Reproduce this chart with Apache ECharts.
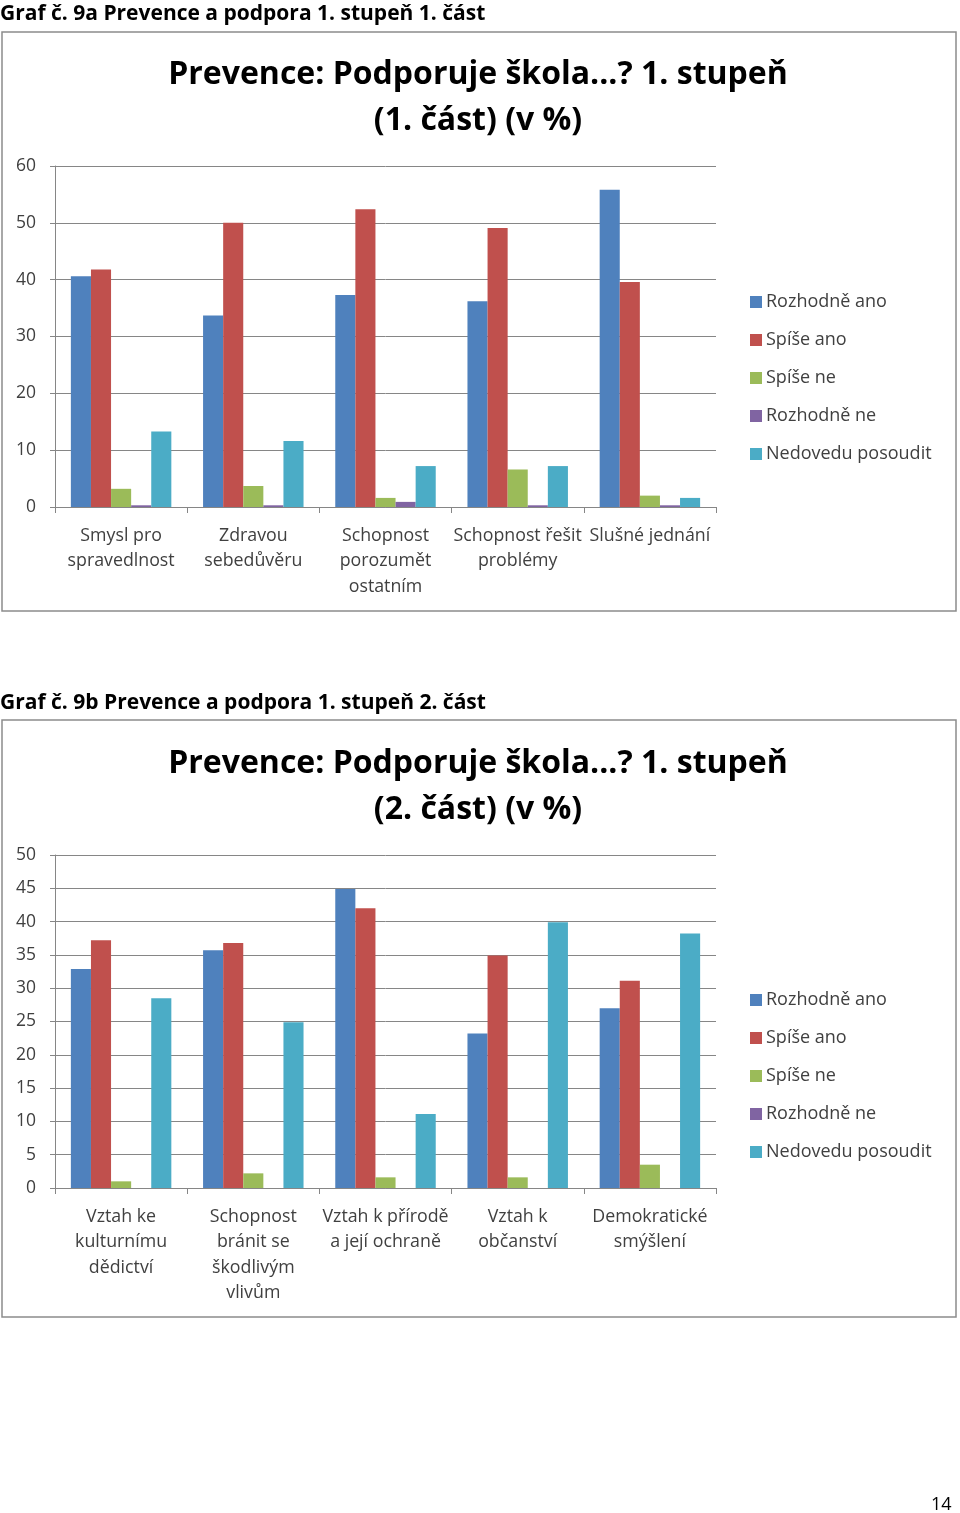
<!DOCTYPE html>
<html>
<head>
<meta charset="utf-8">
<script src="https://cdn.jsdelivr.net/npm/echarts@6/dist/echarts.min.js"></script>
<style>
html,body{margin:0;padding:0;background:#fff;}
#c{width:960px;height:1513px;}
</style>
</head>
<body>
<div id="c"></div>
<script>
// ---- data ----
const seriesNames = ['Rozhodně ano', 'Spíše ano', 'Spíše ne', 'Rozhodně ne', 'Nedovedu posoudit'];
const colors = ['#4F81BD', '#C0504D', '#9BBB59', '#8064A2', '#4BACC6'];

const categories1 = ['Smysl pro\nspravedlnost', 'Zdravou\nsebedůvěru', 'Schopnost\nporozumět\nostatním', 'Schopnost řešit\nproblémy', 'Slušné jednání'];
const rozhodneAno1 = [40.6, 33.7, 37.3, 36.2, 55.8];
const spiseAno1 = [41.8, 50.0, 52.4, 49.1, 39.6];
const spiseNe1 = [3.2, 3.7, 1.6, 6.6, 2.0];
const rozhodneNe1 = [0.3, 0.3, 0.9, 0.3, 0.3];
const nedovedu1 = [13.3, 11.6, 7.2, 7.2, 1.6];

const categories2 = ['Vztah ke\nkulturnímu\ndědictví', 'Schopnost\nbránit se\nškodlivým\nvlivům', 'Vztah k přírodě\na její ochraně', 'Vztah k\nobčanství', 'Demokratické\nsmýšlení'];
const rozhodneAno2 = [32.9, 35.7, 44.9, 23.2, 27.0];
const spiseAno2 = [37.2, 36.8, 42.0, 34.9, 31.1];
const spiseNe2 = [1.0, 2.2, 1.6, 1.6, 3.5];
const rozhodneNe2 = [0, 0, 0, 0, 0];
const nedovedu2 = [28.5, 24.9, 11.1, 39.9, 38.2];

const heading1 = 'Graf č. 9a Prevence a podpora 1. stupeň 1. část';
const heading2 = 'Graf č. 9b Prevence a podpora 1. stupeň 2. část';
const title1 = 'Prevence: Podporuje škola...? 1. stupeň\n(1. část) (v %)';
const title2 = 'Prevence: Podporuje škola...? 1. stupeň\n(2. část) (v %)';
const pageNumber = '14';

// ---- chart ----
const FONT = '"Open Sans", "Noto Sans", sans-serif';
const chart = echarts.init(document.getElementById('c'), null, {renderer: 'canvas'});

const data1 = [rozhodneAno1, spiseAno1, spiseNe1, rozhodneNe1, nedovedu1];
const data2 = [rozhodneAno2, spiseAno2, spiseNe2, rozhodneNe2, nedovedu2];

function makeSeries(dataSets, idx) {
  return dataSets.map((d, i) => ({
    name: seriesNames[i],
    type: 'bar',
    xAxisIndex: idx,
    yAxisIndex: idx,
    data: d,
    barGap: '0%',
    barCategoryGap: '24%',
    itemStyle: {color: colors[i]},
    emphasis: {disabled: true}
  }));
}

function xAxis(idx, cats) {
  return {
    type: 'category',
    gridIndex: idx,
    data: cats,
    axisLine: {lineStyle: {color: '#868686', width: 1}},
    axisTick: {show: true, length: 6, lineStyle: {color: '#868686'}},
    axisLabel: {
      color: '#404040', fontFamily: FONT, fontSize: 17.8, lineHeight: 25.5,
      margin: 16, interval: 0
    }
  };
}
function yAxis(idx, max, interval) {
  return {
    type: 'value',
    gridIndex: idx,
    min: 0, max: max, interval: interval,
    axisLine: {show: true, lineStyle: {color: '#868686'}},
    axisTick: {show: true, length: 5, inside: false, lineStyle: {color: '#868686'}},
    axisLabel: {color: '#404040', fontFamily: FONT, fontSize: 17.5, margin: 19},
    splitLine: {show: true, lineStyle: {color: '#868686', width: 1}}
  };
}

function legend(top) {
  return {
    data: seriesNames,
    orient: 'vertical',
    left: 745,
    top: top,
    itemGap: 20,
    itemWidth: 12,
    itemHeight: 12,
    icon: 'rect',
    selectedMode: false,
    textStyle: {color: '#404040', fontFamily: FONT, fontSize: 18, padding: [0, 0, 0, -1]}
  };
}

const option = {
  animation: false,
  backgroundColor: '#fff',
  title: [
    {text: heading1, left: 0, top: 2, padding: 0, textStyle: {fontFamily: FONT, fontWeight: 'bold', fontSize: 21, lineHeight: 24, color: '#000'}},
    {text: heading2, left: 0, top: 691, padding: 0, textStyle: {fontFamily: FONT, fontWeight: 'bold', fontSize: 21, lineHeight: 24, color: '#000'}},
    {text: title1, left: 478, textAlign: 'center', top: 52, padding: 0, textStyle: {fontFamily: FONT, fontWeight: 'bold', fontSize: 32, lineHeight: 46, color: '#000'}},
    {text: title2, left: 478, textAlign: 'center', top: 741, padding: 0, textStyle: {fontFamily: FONT, fontWeight: 'bold', fontSize: 32, lineHeight: 46, color: '#000'}},
    {text: pageNumber, left: 931, top: 1496, padding: 0, textStyle: {fontFamily: FONT, fontWeight: 'normal', fontSize: 18, color: '#000'}}
  ],
  graphic: [
    {type: 'rect', shape: {x: 2, y: 32, width: 954, height: 579}, style: {fill: null, stroke: '#8c8c8c', lineWidth: 1.5}, z: -1},
    {type: 'rect', shape: {x: 2, y: 720, width: 954, height: 597}, style: {fill: null, stroke: '#8c8c8c', lineWidth: 1.5}, z: -1}
  ],
  legend: [legend(288), legend(986)],
  grid: [
    {left: 55, top: 166, width: 661, height: 341},
    {left: 55, top: 855, width: 661, height: 333}
  ],
  xAxis: [xAxis(0, categories1), xAxis(1, categories2)],
  yAxis: [yAxis(0, 60, 10), yAxis(1, 50, 5)],
  series: [...makeSeries(data1, 0), ...makeSeries(data2, 1)]
};
chart.setOption(option);
</script>
</body>
</html>
